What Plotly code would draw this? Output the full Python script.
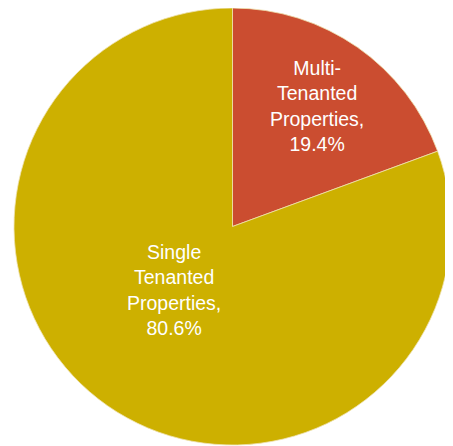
import math
import plotly.graph_objects as go

categories = ["Multi-Tenanted Properties", "Single Tenanted Properties"]
values = [19.4, 80.6]
label_names = ["Multi-<br>Tenanted<br>Properties,", "Single<br>Tenanted<br>Properties,"]
colors = ["#CB4D30", "#CDB000"]

# label placement style (fraction of radius, angular tweak in degrees)
label_radius = [0.675, 0.395]
label_angle_offset = [0, -8]

W, H = 453, 446
# pie geometry in pixels (figure coordinates)
cx, cy, R = 224.5, 218.5, 218.5
dom_x = [(cx - R) / W, (cx + R) / W]
dom_y = [max(0, (H - (cy + R)) / H), min(1, (H - (cy - R)) / H)]

fig = go.Figure(go.Pie(
    labels=categories,
    values=values,
    textinfo="none",
    sort=False,
    direction="clockwise",
    rotation=0,
    marker=dict(colors=colors, line=dict(color="#EFE2B0", width=0.8)),
    domain=dict(x=dom_x, y=dom_y),
    showlegend=False,
    hoverinfo="skip",
))

total = sum(values)
start = 90.0
for i, v in enumerate(values):
    sweep = v / total * 360.0
    mid = start - sweep / 2 + label_angle_offset[i]
    start -= sweep
    r = label_radius[i] * R
    px = cx + r * math.cos(math.radians(mid))
    py = cy - r * math.sin(math.radians(mid))
    fig.add_annotation(
        x=px / W, y=1 - py / H, xref="paper", yref="paper",
        xanchor="center", yanchor="middle",
        text=f"{label_names[i]}<br>{v:.1f}%",
        showarrow=False,
        font=dict(family="Liberation Sans, Arial", size=19.5, color="white"),
        align="center",
    )

fig.update_layout(
    width=W, height=H,
    margin=dict(l=0, r=0, t=0, b=0),
    paper_bgcolor="white",
    plot_bgcolor="white",
)
fig.write_html("out.html")
